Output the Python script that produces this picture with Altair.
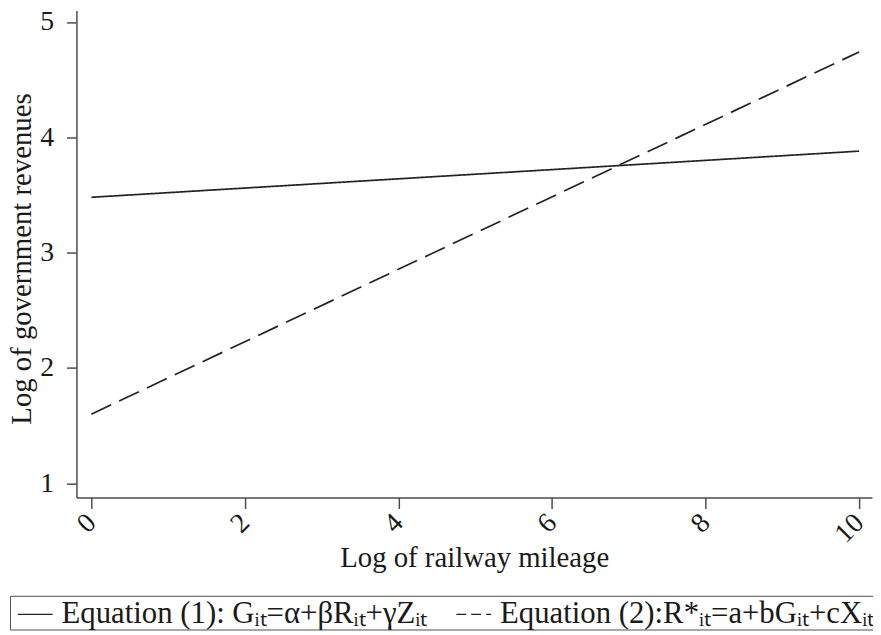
import altair as alt
import pandas as pd

# Data
x_vals = [0, 10]
eq1_vals = [3.48, 3.88]
eq2_vals = [1.60, 4.74]
series_names = [
    "Equation (1): Gᵢₜ=α+βRᵢₜ+γZᵢₜ",
    "Equation (2):R*ᵢₜ=a+bGᵢₜ+cXᵢₜ",
]
x_ticks = [0, 2, 4, 6, 8, 10]
y_ticks = [1, 2, 3, 4, 5]

rows = []
for xv, v in zip(x_vals, eq1_vals):
    rows.append({"x": xv, "y": v, "series": series_names[0]})
for xv, v in zip(x_vals, eq2_vals):
    rows.append({"x": xv, "y": v, "series": series_names[1]})
df = pd.DataFrame(rows)

FONT = "Liberation Serif"
AX = "#4d4d4d"
TXT = "#1a1a1a"

x_enc = alt.X(
    "x:Q",
    scale=alt.Scale(domain=[-0.194, 10.168], nice=False, zero=False),
    axis=alt.Axis(
        values=x_ticks,
        format="d",
        title="Log of railway mileage",
        labelAngle=315,
        labelAlign="right",
        labelBaseline="middle",
        labelPadding=10,
        tickSize=11,
        titleX=401,
        titleY=69,
        titleBaseline="alphabetic",
        titleAlign="center",
    ),
)
y_enc = alt.Y(
    "y:Q",
    scale=alt.Scale(domain=[0.877, 5.099], nice=False, zero=False),
    axis=alt.Axis(
        values=y_ticks,
        format="d",
        title="Log of government revenues",
        labelPadding=13,
        tickSize=10,
        titleAngle=270,
        titleX=-46,
        titleY=250,
        titleBaseline="alphabetic",
        titleAlign="center",
    ),
)

base = alt.Chart(df)

# visible lines (dash pattern from the plotted lines)
lines = base.mark_line(color="#222222", strokeWidth=1.7).encode(
    x=x_enc,
    y=y_enc,
    strokeDash=alt.condition(
        alt.datum.series == series_names[0], alt.value([1, 0]), alt.value([22, 9])
    ),
    detail="series:N",
)

# empty layer that only drives the legend (short dashes as in the legend key)
legend_layer = (
    base.transform_filter("false")
    .mark_line(color="#222222", strokeWidth=1.5)
    .encode(
        x=x_enc,
        y=y_enc,
        strokeDash=alt.StrokeDash(
            "series:N",
            scale=alt.Scale(domain=series_names, range=[[1, 0], [10, 5]]),
            legend=alt.Legend(
                title=None,
                orient="none",
                legendX=-67,
                legendY=590,
                direction="horizontal",
                symbolType="stroke",
                symbolSize=1225,
                symbolStrokeWidth=1.5,
                symbolStrokeColor="#222222",
                symbolOffset=7,
                labelFont=FONT,
                labelFontSize=31,
                labelColor=TXT,
                labelOffset=8,
                labelLimit=1000,
                columnPadding=21,
                padding=0,
                strokeColor=AX,
            ),
        ),
    )
)

chart = (
    alt.layer(lines, legend_layer)
    .properties(
        width=802,
        height=491,
        autosize=alt.AutoSizeParams(type="none"),
        padding={"left": 69, "top": 0, "right": 1, "bottom": 135},
    )
    .configure_view(stroke="transparent")
    .configure_axis(
        grid=False,
        domainColor=AX,
        domainWidth=1.5,
        tickColor=AX,
        tickWidth=1.5,
        labelFont=FONT,
        labelFontSize=28,
        labelColor=TXT,
        titleFont=FONT,
        titleFontSize=29,
        titleFontWeight="normal",
        titleColor=TXT,
    )
)

chart.save("out.html", embed_options={"renderer": "svg", "actions": False})
